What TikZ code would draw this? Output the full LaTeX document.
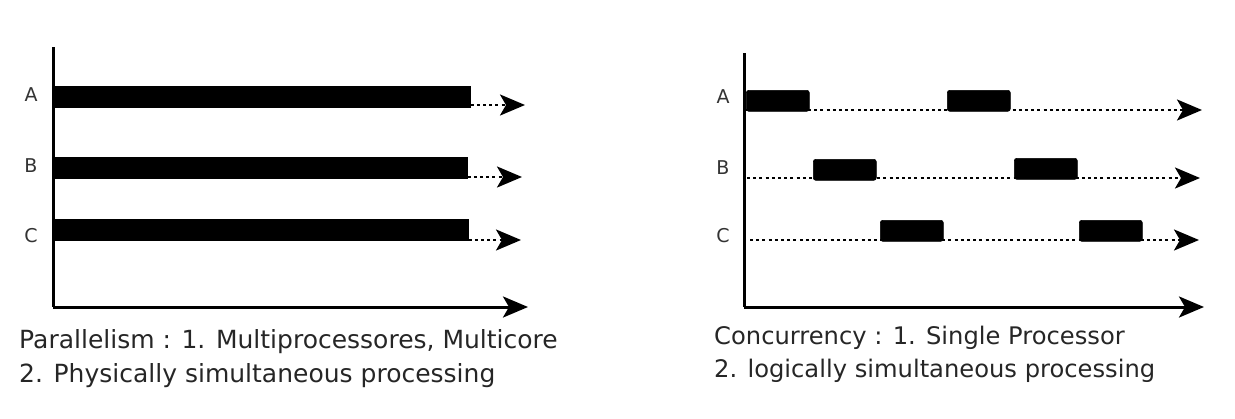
\documentclass[tikz,border=0pt]{standalone}
\usepackage{fontspec}
\setmainfont{DejaVu Sans}
\usetikzlibrary{arrows.meta}
\begin{document}
\begin{tikzpicture}[x=1pt,y=-1pt,
  tiphead/.style={-{Stealth[length=25pt,width=21pt,inset=6pt]}},
  axisline/.style={line width=3pt,tiphead},
  dotarrow/.style={line width=2.8pt,dash pattern=on 3pt off 3.2pt,tiphead},
  bar/.style={fill=black,draw=black,line width=0.6pt,rectangle,inner sep=0pt,minimum height=21pt,anchor=north west},
  rbar/.style={bar,rounded corners=2.5pt,minimum width=63pt},
  lab/.style={font=\fontsize{19}{22}\selectfont,inner sep=0pt,text=black!80},
  captext/.style={font=\fontsize{25}{30}\selectfont,inner sep=0pt,anchor=base west,text=black!85}
]
\useasboundingbox (0,0) rectangle (1235,418);
% ---------- left panel ----------
\coordinate (lO) at (53,307);
\coordinate (lTop) at (53,47);
\coordinate (lX) at (528,307);
\draw[line width=3pt] (lTop) -- (lO);
\draw[axisline] (lO) -- (lX);
\node[lab] (lA) at (31,95) {A};
\node[lab] (lB) at (31,166) {B};
\node[lab] (lC) at (31,236) {C};
\node[bar,minimum width=417pt] (pA) at (53,86) {};
\node[bar,minimum width=414pt] (pB) at (53,157) {};
\node[bar,minimum width=415pt] (pC) at (53,219) {};
\coordinate (pAe) at (525,105);
\coordinate (pBe) at (522,177);
\coordinate (pCe) at (521,240);
\draw[dotarrow] (pA.east |- pAe) -- (pAe);
\draw[dotarrow] (pB.east |- pBe) -- (pBe);
\draw[dotarrow] (pC.east |- pCe) -- (pCe);
\node[captext] (lt1) at (19,348) {Parallelism : 1. Multiprocessores, Multicore};
\node[captext] (lt2) at (19,382) {2. Physically simultaneous processing};
% ---------- right panel ----------
\coordinate (rO) at (744,307);
\coordinate (rTop) at (744,53);
\coordinate (rX) at (1204,307);
\draw[line width=3pt] (rTop) -- (rO);
\draw[axisline] (rO) -- (rX);
\node[lab] (rA) at (723,97) {A};
\node[lab] (rB) at (723,168) {B};
\node[lab] (rC) at (723,236) {C};
\coordinate (cAs) at (746,110);
\coordinate (cAe) at (1202,110);
\coordinate (cBs) at (747,178);
\coordinate (cBe) at (1200,178);
\coordinate (cCs) at (750,240);
\coordinate (cCe) at (1199,240);
\draw[dotarrow] (cAs) -- (cAe);
\draw[dotarrow] (cBs) -- (cBe);
\draw[dotarrow] (cCs) -- (cCe);
\node[rbar] (a1) at (746,90) {};
\node[rbar] (a2) at (947,90) {};
\node[rbar] (b1) at (813,159) {};
\node[rbar] (b2) at (1014,158) {};
\node[rbar] (c1) at (880,220) {};
\node[rbar] (c2) at (1079,220) {};
\node[captext,font=\fontsize{24.2}{29}\selectfont] (rt1) at (714,344) {Concurrency : 1. Single Processor};
\node[captext,font=\fontsize{24.2}{29}\selectfont] (rt2) at (714,377) {2. logically simultaneous processing};
\end{tikzpicture}
\end{document}
